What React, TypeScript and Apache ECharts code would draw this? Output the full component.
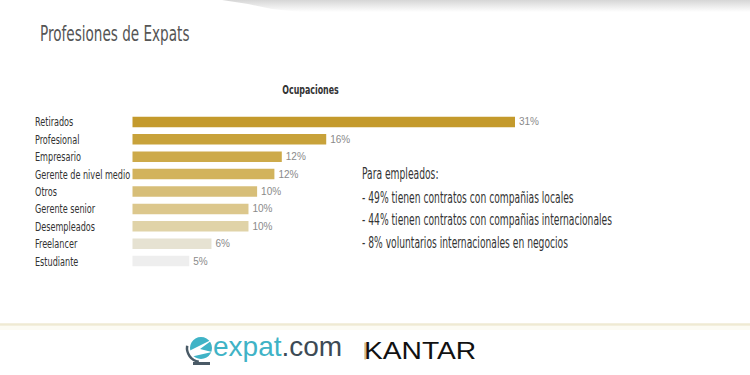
import React, { useEffect, useRef } from "react";
import * as echarts from "echarts";

const categories = [
  "Retirados",
  "Profesional",
  "Empresario",
  "Gerente de nivel medio",
  "Otros",
  "Gerente senior",
  "Desempleados",
  "Freelancer",
  "Estudiante",
];
// bar lengths (percent)
const values = [31, 15.7, 12.1, 11.5, 10.1, 9.4, 9.4, 6.4, 4.6];
// labels printed next to the bars
const valueLabels = ["31%", "16%", "12%", "12%", "10%", "10%", "10%", "6%", "5%"];
const barColors = [
  "#C49A2C",
  "#C8A23A",
  "#CDAA4A",
  "#D2B35C",
  "#D7BE78",
  "#DCC78C",
  "#E0D3A8",
  "#E6E2D2",
  "#EEEEEE",
];
const titleText = "Profesiones de Expats";
const subtitleText = "Ocupaciones";
const noteLines = [
  "Para empleados:",
  "- 49% tienen contratos con compañias locales",
  "- 44% tienen contratos con compañias internacionales",
  "- 8% voluntarios internacionales en negocios",
];

const NARROW = "'DejaVu Sans Condensed', 'Liberation Sans Narrow', sans-serif";
const SANS = "'Liberation Sans', Arial, sans-serif";

export default function App() {
  const ref = useRef<HTMLDivElement>(null);
  useEffect(() => {
    if (!ref.current) return;
    const chart = echarts.init(ref.current, null, { renderer: "svg" });
    const noteY = [174, 197.5, 220, 242.5];
    chart.setOption({
      animation: false,
      backgroundColor: "#ffffff",
      grid: { left: 132.5, top: 113.3, width: 382.5, height: 156.4, containLabel: false },
      xAxis: {
        type: "value",
        min: 0,
        max: 31,
        show: false,
      },
      yAxis: {
        type: "category",
        data: categories,
        inverse: true,
        axisLine: { show: false },
        axisTick: { show: false },
        splitLine: { show: false },
        axisLabel: { show: false },
      },
      series: [
        {
          type: "bar",
          data: values.map((v, i) => ({ value: v, itemStyle: { color: barColors[i] } })),
          barWidth: 10.5,
          label: {
            show: true,
            position: "right",
            distance: 4,
            color: "#8a8a8a",
            fontFamily: SANS,
            fontSize: 10,
            formatter: (p: any) => valueLabels[p.dataIndex],
          },
        },
        {
          // category names, drawn narrow like the reference's condensed typeface
          type: "custom",
          silent: true,
          data: categories.map((_, i) => [0, i]),
          encode: { x: 0, y: 1 },
          renderItem: (params: any, api: any) => {
            const p = api.coord([0, api.value(1)]);
            return {
              type: "text",
              x: p[0] - 97.5,
              y: p[1],
              scaleX: 0.82,
              scaleY: 1.08,
              style: {
                text: categories[params.dataIndex],
                fill: "#333333",
                font: `11px ${NARROW}`,
                verticalAlign: "middle",
                align: "left",
              },
            };
          },
        },
      ],
      graphic: [
        {
          type: "polygon",
          silent: true,
          shape: {
            points: [
              [222, 0],
              [750, 0],
              [750, 12],
              [300, 12],
              [272, 9],
              [248, 4],
            ],
          },
          style: {
            fill: new echarts.graphic.LinearGradient(0, 0, 0, 1, [
              { offset: 0, color: "#d6d6d6" },
              { offset: 1, color: "#ffffff" },
            ]),
          },
        },
        {
          type: "text",
          x: 40,
          y: 33,
          scaleX: 0.84,
          scaleY: 1.2,
          style: {
            text: titleText,
            fill: "#555555",
            font: `18px ${NARROW}`,
            verticalAlign: "middle",
            align: "left",
          },
        },
        {
          type: "text",
          x: 310.5,
          y: 89,
          scaleX: 0.8,
          scaleY: 1.1,
          style: {
            text: subtitleText,
            fill: "#333333",
            font: `bold 11px ${NARROW}`,
            verticalAlign: "middle",
            align: "center",
          },
        },
        ...noteLines.map((t, i) => ({
          type: "text",
          x: 362,
          y: noteY[i],
          scaleX: 0.85,
          scaleY: 1.25,
          style: {
            text: t,
            fill: "#333333",
            font: `12px ${NARROW}`,
            verticalAlign: "middle",
            align: "left",
          },
        })),
        {
          type: "rect",
          shape: { x: 0, y: 323.3, width: 750, height: 2.5 },
          style: { fill: "#EFEAD3" },
        },
        {
          type: "rect",
          shape: { x: 0, y: 326, width: 750, height: 4 },
          style: { fill: "#FCFBF3" },
        },
        // expat.com icon
        {
          type: "circle",
          shape: { cx: 201, cy: 348, r: 11 },
          style: { fill: "#3FB3C6" },
        },
        {
          type: "polygon",
          shape: {
            points: [
              [189, 351],
              [215, 338],
              [200, 349],
              [212, 352],
              [190, 357],
            ],
          },
          style: { fill: "#ffffff" },
        },
        {
          type: "arc",
          shape: { cx: 201, cy: 348, r: 14, startAngle: Math.PI * 0.55, endAngle: Math.PI * 1.05 },
          style: { stroke: "#4a5a66", lineWidth: 2.5, fill: "none" },
        },
        {
          type: "rect",
          shape: { x: 193, y: 362, width: 17, height: 3 },
          style: { fill: "#4a5a66" },
        },
        {
          type: "text",
          x: 213,
          y: 360,
          style: {
            text: "{a|expat}{b|.com}",
            verticalAlign: "bottom",
            align: "left",
            rich: {
              a: { fill: "#3FB3C6", font: `28px ${SANS}` } as any,
              b: { fill: "#3d4a55", font: `28px ${SANS}` } as any,
            },
            font: `28px ${SANS}`,
          },
        },
        {
          type: "text",
          x: 364,
          y: 351,
          scaleX: 1.2,
          style: {
            text: "KANTAR",
            fill: "#111111",
            font: `500 23.5px ${SANS}`,
            verticalAlign: "middle",
            align: "left",
          },
        },
        {
          type: "rect",
          shape: { x: 364.5, y: 342.5, width: 1.2, height: 17 },
          style: { fill: "#C9A24A" },
        },
      ],
    });
    return () => chart.dispose();
  }, []);
  return (
    <div
      ref={ref}
      style={{ position: "fixed", left: 0, top: 0, width: 750, height: 375 }}
    />
  );
}
